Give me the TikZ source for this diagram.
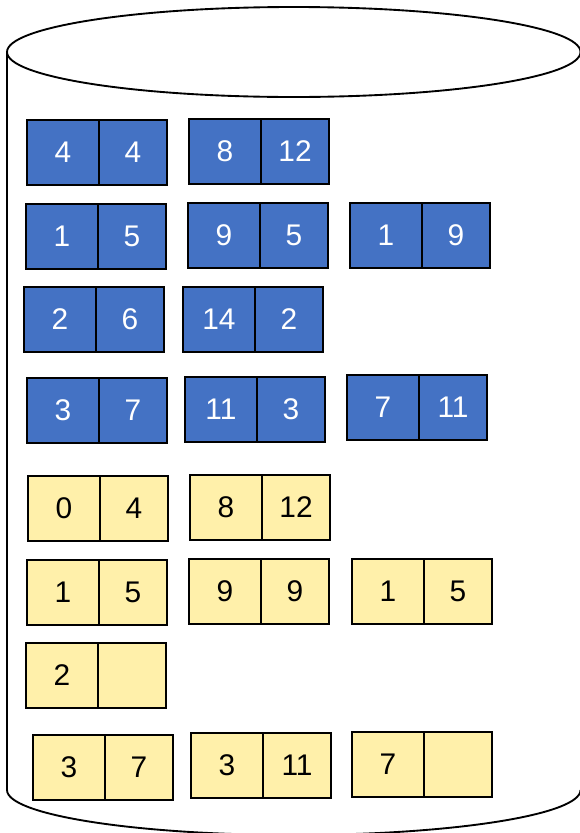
\documentclass[tikz,border=0pt]{standalone}
\usepackage{fontspec}
\setmainfont{Liberation Sans}
\usetikzlibrary{positioning}
\definecolor{cellblue}{HTML}{4472C4}
\definecolor{cellyellow}{HTML}{FFF0AA}

\begin{document}
\begin{tikzpicture}[
    x=0.03cm, y=-0.03cm,
    every node/.style={font=\fontsize{25.5}{30}\selectfont},
    cell/.style={
        draw,
        line width=1.6pt,
        inner sep=0pt,
        outer sep=0pt,
        minimum width=2.04cm,
        minimum height=1.95cm
    },
    bcell/.style={cell, fill=cellblue, text=white},
    ycell/.style={cell, fill=cellyellow, text=black},
    first/.style={anchor=north west, minimum width=2.16cm},
    drum/.style={line width=1.6pt}
]
    \useasboundingbox (0,0) rectangle (579,833);

    % Disk
    \draw[drum] (293.75,52) ellipse [x radius=286.75, y radius=45];
    \draw[drum] (7,52) -- (7,790)
        arc[start angle=180, end angle=0, x radius=286.75, y radius=45];

    % Blue pairs
    \node[bcell, first] (b1l) at (27,120) {4};
    \node[bcell, right=0pt of b1l] (b1r) {4};
    \node[bcell, first] (b2l) at (189,119) {8};
    \node[bcell, right=0pt of b2l] (b2r) {12};

    \node[bcell, first] (b3l) at (26,204) {1};
    \node[bcell, right=0pt of b3l] (b3r) {5};
    \node[bcell, first] (b4l) at (188,203) {9};
    \node[bcell, right=0pt of b4l] (b4r) {5};
    \node[bcell, first] (b5l) at (350,203) {1};
    \node[bcell, right=0pt of b5l] (b5r) {9};

    \node[bcell, first] (b6l) at (24,287) {2};
    \node[bcell, right=0pt of b6l] (b6r) {6};
    \node[bcell, first] (b7l) at (183,287) {14};
    \node[bcell, right=0pt of b7l] (b7r) {2};

    \node[bcell, first] (b8l) at (27,378) {3};
    \node[bcell, right=0pt of b8l] (b8r) {7};
    \node[bcell, first] (b9l) at (185,377) {11};
    \node[bcell, right=0pt of b9l] (b9r) {3};
    \node[bcell, first] (b10l) at (347,375) {7};
    \node[bcell, right=0pt of b10l] (b10r) {11};

    % Yellow pairs
    \node[ycell, first] (y1l) at (28,476) {0};
    \node[ycell, right=0pt of y1l] (y1r) {4};
    \node[ycell, first] (y2l) at (190,475) {8};
    \node[ycell, right=0pt of y2l] (y2r) {12};

    \node[ycell, first] (y3l) at (27,560) {1};
    \node[ycell, right=0pt of y3l] (y3r) {5};
    \node[ycell, first] (y4l) at (189,559) {9};
    \node[ycell, right=0pt of y4l] (y4r) {9};
    \node[ycell, first] (y5l) at (352,559) {1};
    \node[ycell, right=0pt of y5l] (y5r) {5};

    \node[ycell, first] (y6l) at (26,643) {2};
    \node[ycell, right=0pt of y6l] (y6r) {};

    \node[ycell, first] (y7l) at (33,735) {3};
    \node[ycell, right=0pt of y7l] (y7r) {7};
    \node[ycell, first] (y8l) at (191,733) {3};
    \node[ycell, right=0pt of y8l] (y8r) {11};
    \node[ycell, first] (y9l) at (352,732) {7};
    \node[ycell, right=0pt of y9l] (y9r) {};

\end{tikzpicture}
\end{document}
